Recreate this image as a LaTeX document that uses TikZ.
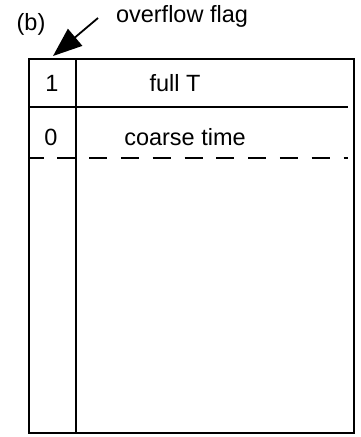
\documentclass[tikz,border=0pt]{standalone}
\usepackage{fontspec}
\setmainfont{Liberation Sans}
\usetikzlibrary{arrows.meta}

\begin{document}
\begin{tikzpicture}[x=1pt, y=-1pt, line width=1.8pt,
		lbl/.style={anchor=base, inner sep=0pt, font=\fontsize{23.5}{28}\selectfont}]
			\useasboundingbox (0,0) rectangle (361,437);
			\coordinate (NW) at (29,59);
			\coordinate (SE) at (354,433);
			\coordinate (DT) at (76,59);
			\coordinate (DB) at (76,433);
			\coordinate (RL) at (29,107);
			\coordinate (RR) at (348,107);
			\coordinate (CL) at (29,158);
			\coordinate (CR) at (348,158);
			\coordinate (tail) at (98,18);
			\coordinate (tip) at (53,56);
			% frame, flag column and rows
			\draw (NW) rectangle (SE);
			\draw (DT) -- (DB);
			\draw (RL) -- (RR);
			\draw[dash pattern=on 18pt off 13.8pt, dash phase=3.5pt] (CL) -- (CR);
			% labels
			\node[lbl] (b) at (31,30) {(b)};
			\node[lbl] (flag) at (182,22) {overflow flag};
			\node[lbl] (one) at (52,91) {1};
			\node[lbl] (full) at (175,91) {full T};
			\node[lbl] (zero) at (51,145) {0};
			\node[lbl] (coarse) at (185,145) {coarse time};
			\draw[-{Triangle[length=29pt, width=22pt]}] (tail) -- (tip);
		\end{tikzpicture}
\end{document}
